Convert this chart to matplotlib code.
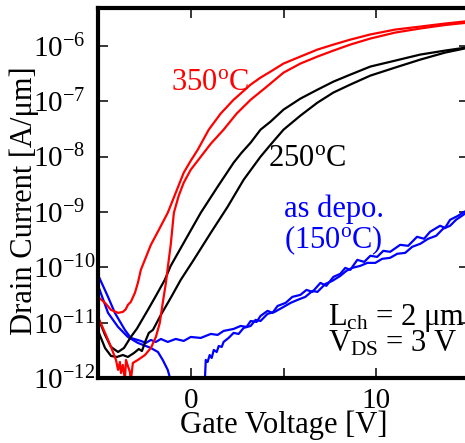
import numpy as np
import matplotlib
matplotlib.use("Agg")
import matplotlib.pyplot as plt
from matplotlib.ticker import FixedLocator, FixedFormatter, LogLocator, LogFormatterMathtext, NullLocator

plt.rcParams['font.family'] = ['Liberation Serif', 'DejaVu Serif']
plt.rcParams['mathtext.fontset'] = 'custom'
plt.rcParams['mathtext.rm'] = 'Liberation Serif'
plt.rcParams['mathtext.it'] = 'Liberation Serif:italic'
plt.rcParams['mathtext.bf'] = 'Liberation Serif:bold'
plt.rcParams['axes.unicode_minus'] = False

# Id-Vg transfer curves, drain current in A/um, two sweeps per anneal condition
vg_350_a = [-5.0, -4.62, -4.30, -3.92, -3.66, -3.50, -3.39, -3.23, -3.01, -2.85, -2.69, -2.15, -1.72,
            -1.24, -0.81, -0.38, 0.0, 0.38, 0.97, 1.61, 2.31, 2.69, 3.23, 3.76, 4.30, 5.0, 5.91, 6.83,
            7.69, 8.60, 9.68, 11.02, 12.37, 13.71, 15.0]
id_350_a = [2.92e-11, 2.27e-11, 1.70e-11, 1.50e-11, 1.56e-11, 1.75e-11, 2.09e-11, 2.37e-11, 3.44e-11,
            5.22e-11, 8.97e-11, 2.54e-10, 4.74e-10, 9.64e-10, 2.21e-9, 5.09e-9, 8.39e-9, 1.33e-8,
            3.05e-8, 5.94e-8, 1.06e-7, 1.37e-7, 1.99e-7, 2.66e-7, 3.41e-7, 4.77e-7, 6.38e-7, 8.53e-7,
            1.05e-6, 1.29e-6, 1.60e-6, 1.96e-6, 2.22e-6, 2.52e-6, 2.80e-6]

vg_350_b = [-5.0, -4.62, -4.30, -4.03, -3.92, -3.82, -3.76, -3.66, -3.55, -3.49, -3.39, -3.28, -3.23,
            -3.12, -2.85, -2.47, -2.15, -1.88, -1.67, -1.51, -1.34, -1.24, -1.08, -0.91, -0.65,
            -0.38, 0.0, 0.54, 1.08, 1.77, 2.47, 3.23, 4.03, 5.0, 5.91, 6.83, 7.69, 8.60, 9.68,
            11.02, 12.37, 13.71, 15.0]
id_350_b = [1.27e-11, 6.52e-12, 3.64e-12, 2.12e-12, 1.40e-12, 1.95e-12, 1.23e-12, 1.72e-12, 9.2e-13,
            2.12e-12, 1.65e-12, 1.29e-12, 9.0e-13, 1.87e-12, 2.12e-12, 2.60e-12, 3.48e-12, 5.51e-12,
            9.88e-12, 2.27e-11, 5.22e-11, 9.75e-11, 2.54e-10, 9.64e-10, 1.95e-9, 3.36e-9, 5.77e-9,
            9.91e-9, 1.70e-8, 3.05e-8, 5.94e-8, 1.06e-7, 1.75e-7, 3.27e-7, 4.77e-7, 6.38e-7, 8.18e-7,
            1.05e-6, 1.35e-6, 1.73e-6, 2.05e-6, 2.37e-6, 2.63e-6]

vg_250_a = [-4.95, -4.62, -4.30, -3.92, -3.60, -3.23, -2.90, -2.69, -2.31, -1.88, -1.40, -1.08, -0.38,
            0.54, 1.45, 1.88, 2.31, 2.74, 3.23, 3.76, 4.30, 5.0, 5.91, 6.83, 7.69, 8.60, 9.68, 11.02,
            12.37, 13.71, 15.0]
id_250_a = [1.12e-11, 6.0e-12, 3.64e-12, 2.95e-12, 3.48e-12, 5.51e-12, 7.8e-12, 1.03e-11, 1.70e-11,
            3.04e-11, 5.92e-11, 1.06e-10, 2.76e-10, 9.64e-10, 2.85e-9, 4.69e-9, 7.73e-9, 1.17e-8,
            1.78e-8, 3.05e-8, 4.26e-8, 7.02e-8, 1.11e-7, 1.61e-7, 2.25e-7, 3.01e-7, 4.21e-7, 5.39e-7,
            6.93e-7, 8.18e-7, 9.46e-7]

vg_250_b = [-4.95, -4.62, -4.30, -3.98, -3.66, -3.39, -3.06, -2.80, -2.63, -2.42, -2.26, -2.04, -1.61,
            -1.08, -0.54, 0.16, 1.08, 1.99, 2.85, 3.76, 4.30, 5.0, 5.91, 6.83, 7.69, 8.60, 9.68,
            11.02, 12.37, 13.71, 15.0]
id_250_b = [6.52e-12, 3.48e-12, 2.50e-12, 2.40e-12, 2.60e-12, 2.40e-12, 2.83e-12, 3.34e-12, 3.07e-12,
            4.86e-12, 6.52e-12, 7.38e-12, 1.38e-11, 2.80e-11, 5.92e-11, 1.36e-10, 4.19e-10, 1.24e-9,
            3.80e-9, 9.91e-9, 1.63e-8, 3.05e-8, 5.47e-8, 9.39e-8, 1.43e-7, 1.99e-7, 2.89e-7, 4.04e-7,
            5.62e-7, 7.53e-7, 9.27e-7]

vg_dep_a = [-4.95, -4.46, -4.09, -3.55, -3.23, -2.69, -2.42, -2.15, -1.88, -1.61, -1.24, -0.81, -0.38,
            0.0, 0.54, 1.08, 1.45, 1.77, 2.31, 2.69, 3.01, 3.23, 3.55, 3.76, 4.14, 4.41, 4.68, 5.11,
            5.48, 5.91, 6.24, 6.56, 6.99, 7.31, 7.69, 8.06, 8.33, 8.60, 8.98, 9.35, 9.68, 10.05,
            10.38, 10.75, 11.29, 11.72, 12.20, 12.58, 12.90, 13.44, 13.71, 13.98, 14.41, 14.73, 15.0]
id_dep_a = [6.70e-11, 2.92e-11, 1.50e-11, 7.38e-12, 5.29e-12, 4.67e-12, 4.30e-12, 4.86e-12, 4.48e-12,
            5.07e-12, 4.48e-12, 5.07e-12, 4.67e-12, 5.51e-12, 5.29e-12, 6.25e-12, 6.0e-12, 7.08e-12,
            7.69e-12, 8.71e-12, 8.36e-12, 1.07e-11, 1.03e-11, 1.32e-11, 1.63e-11, 1.50e-11, 2.0e-11,
            2.27e-11, 2.92e-11, 3.17e-11, 3.90e-11, 3.59e-11, 5.22e-11, 4.62e-11, 6.70e-11, 7.60e-11,
            9.75e-11, 8.97e-11, 1.36e-10, 1.25e-10, 1.61e-10, 1.54e-10, 1.98e-10, 1.90e-10, 2.54e-10,
            2.44e-10, 3.55e-10, 3.27e-10, 4.37e-10, 5.61e-10, 5.15e-10, 7.19e-10, 8.50e-10, 1.00e-9,
            1.09e-9]

# the second as-deposited sweep drops out of range (|Id| below the floor) between about -0.8 V and 0.7 V
vg_dep_b = [-4.95, -4.46, -3.92, -3.39, -2.85, -2.42, -2.15, -1.77, -1.51, -1.24, -0.97, -0.75, 0.70,
            0.75, 0.81, 0.91, 1.02, 1.13, 1.24, 1.40, 1.51, 1.67, 1.77, 2.04, 2.31, 2.58, 2.85, 3.23,
            3.49, 3.76, 4.14, 4.52, 5.0, 5.38, 5.75, 6.18, 6.56, 6.83, 7.26, 7.63, 8.06, 8.39, 8.71,
            9.14, 9.52, 9.95, 10.32, 10.75, 11.13, 11.56, 11.94, 12.37, 12.80, 13.23, 13.60, 13.98,
            14.30, 14.62, 15.0]
id_dep_b = [4.24e-11, 1.50e-11, 8.36e-12, 5.51e-12, 4.30e-12, 3.79e-12, 3.48e-12, 2.95e-12, 2.12e-12,
            1.40e-12, 6.6e-13, 1e-13, 1e-13, 7.47e-13, 2.12e-12, 1.95e-12, 2.60e-12, 2.30e-12,
            3.21e-12, 2.95e-12, 3.79e-12, 3.64e-12, 4.48e-12, 5.29e-12, 6.52e-12, 6.25e-12, 8.02e-12,
            8.71e-12, 1.12e-11, 1.07e-11, 1.44e-11, 1.56e-11, 1.92e-11, 2.27e-11, 2.57e-11, 2.92e-11,
            3.74e-11, 3.59e-11, 5.01e-11, 5.67e-11, 6.98e-11, 8.61e-11, 9.75e-11, 1.06e-10, 1.20e-10,
            1.20e-10, 1.42e-10, 1.48e-10, 1.75e-10, 1.82e-10, 2.34e-10, 2.65e-10, 3.27e-10, 3.70e-10,
            4.95e-10, 5.61e-10, 7.19e-10, 8.50e-10, 1.05e-9]

fig = plt.figure(figsize=(4.65, 4.43), dpi=100)
ax = fig.add_axes([98 / 465, 65 / 443, 371 / 465, 370 / 443])

lw = 1.6
ax.plot(vg_dep_a, id_dep_a, color='#0000ff', lw=lw)
ax.plot(vg_dep_b, id_dep_b, color='#0000ff', lw=lw)
ax.plot(vg_250_a, id_250_a, color='black', lw=lw)
ax.plot(vg_250_b, id_250_b, color='black', lw=lw)
ax.plot(vg_350_a, id_350_a, color='#ff0000', lw=lw)
ax.plot(vg_350_b, id_350_b, color='#ff0000', lw=lw)

ax.set_yscale('log')
ax.set_xlim(-5, 15)
ax.set_ylim(1e-12, 10 ** -5.318)

ax.xaxis.set_major_locator(FixedLocator([-5, 0, 5, 10, 15]))
ax.xaxis.set_major_formatter(FixedFormatter(['', '0', '', '10', '']))
ax.xaxis.set_minor_locator(NullLocator())
ax.yaxis.set_major_locator(LogLocator(base=10, numticks=20))
ax.yaxis.set_major_formatter(LogFormatterMathtext())
ax.yaxis.set_minor_locator(NullLocator())

ax.tick_params(which='major', direction='in', length=7.2, width=1.1,
               top=True, right=True, labelsize=21)
ax.tick_params(axis='x', pad=7)
# decade labels are left-aligned so the "10" mantissas line up
ax.tick_params(axis='y', pad=46.5)
plt.setp(ax.get_yticklabels(), ha='left')
for sp in ax.spines.values():
    sp.set_linewidth(3.0)

ax.set_xlabel('Gate Voltage [V]', fontsize=22, labelpad=-2)
ax.set_ylabel('Drain Current [A/μm]', fontsize=22)
ax.yaxis.set_label_coords(-0.160, 0.48)

fs = 22
ax.text(-1.08, 10 ** -6.79, r'350$^\mathrm{o}$C', color='#ff0000', fontsize=fs)
ax.text(4.19, 10 ** -8.18, r'250$^\mathrm{o}$C', color='black', fontsize=fs)
ax.text(5.0, 10 ** -9.09, 'as depo.', color='#0000ff', fontsize=fs)
ax.text(5.0, 10 ** -9.65, r'(150$^\mathrm{o}$C)', color='#0000ff', fontsize=fs)
ax.text(7.42, 10 ** -11.04, r'L$_\mathrm{ch}$ = 2 μm', color='black', fontsize=fs)
ax.text(7.42, 10 ** -11.53, r'V$_\mathrm{DS}$ = 3 V', color='black', fontsize=fs)

fig.savefig('out.png', dpi=100)
